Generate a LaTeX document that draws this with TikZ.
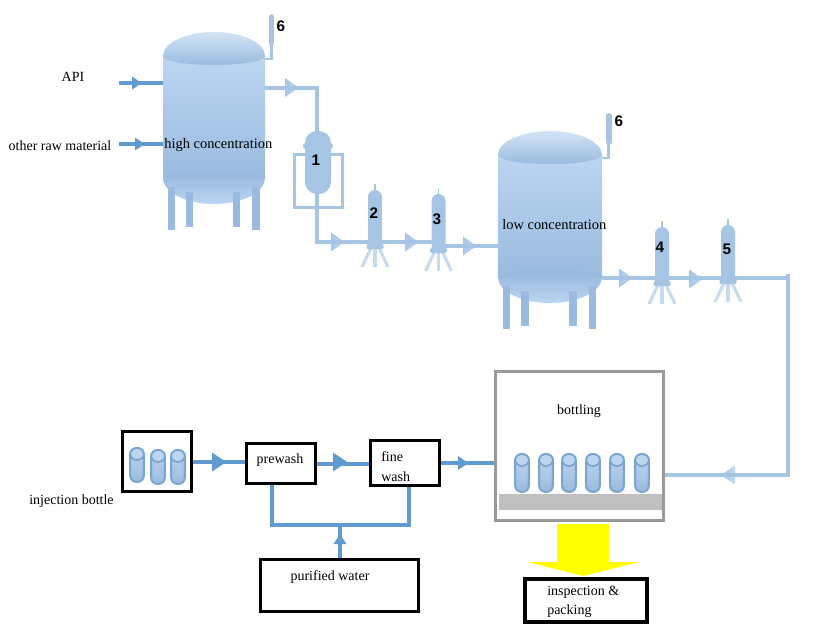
\documentclass[tikz,border=0pt]{standalone}
\usepackage{fontspec}
\setmainfont{Liberation Serif}
\newfontfamily\numfont{Liberation Sans}
\usetikzlibrary{calc}

\definecolor{pipeblue}{HTML}{A6C5E4}
\definecolor{tanktop}{HTML}{BCD5F1}
\definecolor{tankdark}{HTML}{9ABBDF}
\definecolor{spraylight}{HTML}{C6DAF0}
\definecolor{linkblue}{HTML}{5F9BD0}
\definecolor{bottleline}{HTML}{7BA5CE}
\definecolor{packyellow}{RGB}{255,255,0}

\tikzset{
	pipe/.style={draw=pipeblue,line width=3pt},
	link/.style={draw=linkblue,line width=3pt},
	procbox/.style={draw=black,line width=2.25pt,fill=white,inner sep=0pt},
	label/.style={font=\fontsize{10.5}{14.5}\selectfont,inner sep=0pt,text=black},
	tanklabel/.style={font=\fontsize{10.85}{14.5}\selectfont,inner sep=0pt,text=black},
	numlabel/.style={font=\numfont\bfseries\fontsize{11.5}{12}\selectfont,inner sep=0pt,text=black},
	pics/flowtip/.style={code={
		\shade[left color=pipeblue,right color=spraylight] (0,-9.5) -- (14,0) -- (0,9.5) -- cycle;
	}},
	pics/linktip/.style={code={
		\fill[linkblue] (0,-#1) -- (1.5*#1,0) -- (0,#1) -- cycle;
	}},
	pics/tank/.style={code={
		\shade[top color=tanktop,bottom color=tankdark] (-51,0) rectangle (51,122);
		\shade[top color=tankdark,bottom color=tanktop] (-51,120) -- (51,120) -- (51,122) arc[start angle=0,end angle=180,x radius=51,y radius=26] -- cycle;
		\fill[tankdark] (-51,122) arc[start angle=180,end angle=360,x radius=51,y radius=7] -- cycle;
		\shade[top color=tanktop!65!white,middle color=tanktop,bottom color=tankdark] (-51,0) arc[start angle=180,end angle=360,x radius=51,y radius=24] arc[start angle=0,end angle=180,x radius=51,y radius=9] -- cycle;
		\fill[tankdark] (-46,131) rectangle (-39,174);
		\fill[tankdark] (-28,136) rectangle (-21,171);
		\fill[tankdark] (19,136) rectangle (26,171);
		\fill[tankdark] (38,131) rectangle (45.5,174);
		\draw[pipeblue,line width=1.9pt] (51,3) -- (57.5,3) -- (57.5,-11);
		\draw[pipeblue,line width=4.3pt,line cap=round] (57.5,-13) -- (57.5,-39);
		\coordinate (-out) at (51,32);
		\coordinate (-inA) at (-51,27);
		\coordinate (-inB) at (-51,88);
		\coordinate (-inC) at (-51,91);
		\coordinate (-outC) at (51,123);
	}},
	pics/filter/.style={code={
		\draw[spraylight,line width=2.3pt] (-4,0) -- (-13,19);
		\draw[spraylight,line width=2.3pt] (0,0) -- (0,19);
		\draw[spraylight,line width=2.3pt] (4,0) -- (13,19);
		\draw[pipeblue,line width=1.3pt] (0,-58) -- (0,-64);
		\fill[pipeblue] (-7,0) -- (-7,-51) arc[start angle=180,end angle=360,radius=7] -- (7,0) -- cycle;
		\fill[pipeblue,rounded corners=1pt] (-8.5,-4) rectangle (8.5,1);
	}},
	pics/bottle/.style={code={
		\shade[top color=tanktop,bottom color=tankdark,draw=bottleline,line width=1.5pt] (-6.8,6) arc[start angle=180,end angle=360,x radius=6.8,y radius=6] -- (6.8,#1-6) arc[start angle=0,end angle=180,x radius=6.8,y radius=6] -- cycle;
		\draw[fill=tanktop,draw=bottleline,line width=1.3pt] (0,6) ellipse[x radius=6.8,y radius=6];
	}},
}

\begin{document}
\begin{tikzpicture}[x=0.75pt,y=-0.75pt]
	\useasboundingbox (0,0) rectangle (822,629);

	\pic (hi) at (214,56) {tank};
	\pic[xscale=1.02] (lo) at (550,155) {tank};

	\coordinate (apifeed) at (119,83);
	\coordinate (rawfeed) at (119,144);
	\coordinate (tapA) at (317,160);
	\coordinate (bendA) at (317,242);
	\coordinate (tapB) at (375,242);
	\coordinate (tapC) at (438.5,242);
	\coordinate (tapCout) at (438.5,246);
	\coordinate (bendB) at (788,278);
	\coordinate (bendBtop) at (788,274);
	\coordinate (bendC) at (788,475);
	\coordinate (fillin) at (665,475);

	\draw[link,line width=2.6pt] (apifeed) -- (hi-inA);
	\draw[link,line width=2.6pt] (rawfeed) -- (hi-inB |- rawfeed);
	\pic at (132,83) {linktip=6.5};
	\pic at (135,144) {linktip=6.5};

	\pic at (285,87.5) {flowtip};
	\pic at (331,242) {flowtip};
	\pic at (405,242) {flowtip};
	\pic at (463,246) {flowtip};
	\pic at (619,278) {flowtip};
	\pic at (689,279) {flowtip};
	\pic[xscale=-1] at (735,475) {flowtip};

	\draw[pipe] (hi-out) -| (tapA) -- (bendA) -- (tapB) -- (tapC);
	\draw[pipe] (tapCout) -- (lo-inC);
	\draw[pipe] (lo-outC) -- (bendB);
	\draw[pipe] (bendBtop) -- (bendC) -- (fillin);
	\draw[pipeblue,line width=2.25pt] (294.5,154.5) rectangle (342.5,207);

	% filters
	\fill[pipeblue,rounded corners=9pt] (305,131) rectangle (331,194);
	\fill[pipeblue,rounded corners=2pt] (303,143) rectangle (333,149);
	\pic at (375,248) {filter};
	\pic at (438.5,252) {filter};
	\pic at (662,285) {filter};
	\pic at (728,283) {filter};

	\node[numlabel] (numA) at (316,160) {1};
	\node[numlabel] (numB) at (374,213) {2};
	\node[numlabel] (numC) at (437,219) {3};
	\node[numlabel] (numD) at (660,247) {4};
	\node[numlabel] (numE) at (727,249) {5};
	\node[numlabel] (numFa) at (281,26) {6};
	\node[numlabel] (numFb) at (619,121) {6};

	\node[label] (api) at (73,77) {API};
	\node[label] (raw) at (60,146) {other raw material};
	\node[tanklabel,anchor=west] (hitext) at (164,145) {high concentration};
	\node[tanklabel,anchor=west] (lotext) at (502,225) {low concentration};

	% washing line
	\node[procbox,minimum width=51.75pt,minimum height=45pt] (bottlebox) at (157,461.5) {};
	\node[procbox,minimum width=51.75pt,minimum height=30pt] (prewash) at (281,463.5) {};
	\node[procbox,minimum width=51.75pt,minimum height=33.75pt] (finewash) at (405,463) {};
	\node[procbox,minimum width=118.5pt,minimum height=39pt] (water) at (339.5,585.5) {};
	\node[procbox,draw=black!40,minimum width=126pt,minimum height=111.75pt] (bottling) at (579.5,446) {};
	\node[label] (inject) at (71.5,501) {injection bottle};
	\node[label] at (280,460) {prewash};
	\node[label,anchor=north west,align=left] at (381,451) {fine\\[1pt]wash};
	\node[label] at (330,577) {purified water};
	\node[label] at (579,411) {bottling};

	\foreach \xb/\yb in {137/448,158/450,178/450}
		\pic at (\xb,\yb) {bottle=34};
	\foreach \xb in {522,546,569,593,617,642}
		\pic at (\xb,454) {bottle=38};
	\fill[black!25] (499,494) rectangle (662,510);

	\pic at (212,462) {linktip=9.5};
	\pic at (333,462) {linktip=9.5};
	\pic at (458,463) {linktip=7};
	\draw[link] (bottlebox.east) -- (bottlebox.east -| prewash.west);
	\draw[link] (prewash.east) -- (prewash.east -| finewash.west);
	\draw[link] (finewash.east) -- (finewash.east -| bottling.west);

	\coordinate (washA) at (272,525);
	\coordinate (washB) at (409,525);
	\coordinate (washC) at (340,525);
	\draw[link] (prewash.south -| washA) -- (washA) -- (washB) -- (finewash.south -| washB);
	\draw[link] (water.north -| washC) -- (washC);
	\pic[rotate=90] at (340,544) {linktip=6.5};

	% packing
	\fill[packyellow] (557,524) -- (609,524) -- (609,562) -- (639,562) -- (583,576) -- (527,562) -- (557,562) -- cycle;
	\node[procbox,line width=3pt,minimum width=91.5pt,minimum height=32.25pt] (packing) at (586,600.5) {};
	\node[label,anchor=north west,align=left] at (547,586) {inspection \&\\packing};
\end{tikzpicture}
\end{document}
